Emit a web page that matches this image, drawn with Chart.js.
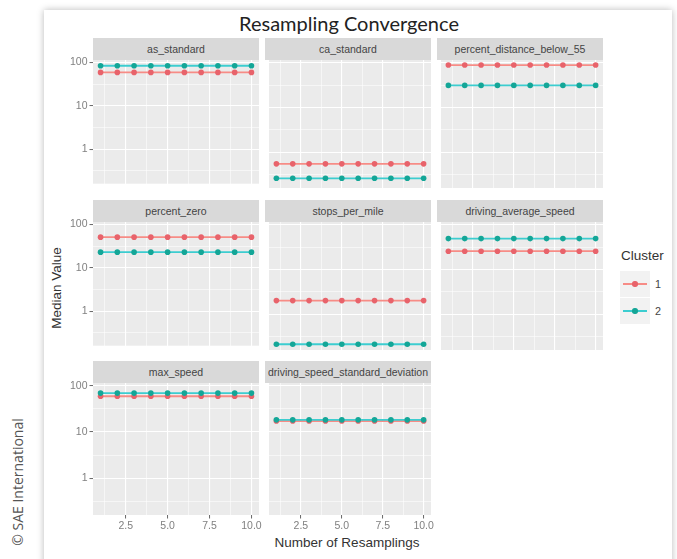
<!DOCTYPE html>
<html><head><meta charset="utf-8">
<script src="https://cdn.jsdelivr.net/npm/chart.js@4.4.1/dist/chart.umd.min.js"></script>
<style>
html,body{margin:0;padding:0;background:#fff;width:677px;height:559px;overflow:hidden;position:relative;font-family:"Liberation Sans",Arial,sans-serif;}
#card{position:absolute;left:44px;top:10px;width:628px;height:570px;background:#fff;box-shadow:0 0 7px rgba(0,0,0,0.28);}
.strip{position:absolute;background:#d9d9d9;color:#444;font-size:10.5px;height:22px;line-height:22px;overflow:hidden;white-space:nowrap;display:flex;justify-content:center;}
canvas{position:absolute;}
#title{position:absolute;left:149px;width:400px;top:10px;line-height:26px;text-align:center;font-family:Lato,"Open Sans",sans-serif;font-size:20px;color:#222;}
#ytitle{position:absolute;left:-43px;width:200px;top:280px;line-height:16px;text-align:center;font-size:13.5px;color:#333;transform:rotate(-90deg);}
#xtitle{position:absolute;left:197px;width:300px;top:535px;line-height:16px;text-align:center;font-size:13.5px;color:#333;}
#copy{position:absolute;left:-82px;width:200px;top:474px;line-height:16px;text-align:center;font-family:"Open Sans",sans-serif;font-size:14px;color:#555;transform:rotate(-90deg);}
.lg{position:absolute;}
</style></head><body>
<div id="card"></div>
<div id="title">Resampling Convergence</div>
<div id="ytitle">Median Value</div>
<div id="xtitle">Number of Resamplings</div>
<div id="copy">© SAE International</div>
<div id="legend"></div>
<script>
// ---- data ----
const resamplings = [1,2,3,4,5,6,7,8,9,10];
const facetNames = ['as_standard','ca_standard','percent_distance_below_55','percent_zero','stops_per_mile','driving_average_speed','max_speed','driving_speed_standard_deviation'];
const clusterNames = ['1','2'];

const asStandard1 = [59,59,59,59,59,59,59,59,59,59];
const asStandard2 = [84,84,84,84,84,84,84,84,84,84];
const caStandard1 = [0.553,0.553,0.553,0.553,0.553,0.553,0.553,0.553,0.553,0.553];
const caStandard2 = [0.263,0.263,0.263,0.263,0.263,0.263,0.263,0.263,0.263,0.263];
const pctDistBelow55_1 = [88,88,88,88,88,88,88,88,88,88];
const pctDistBelow55_2 = [31,31,31,31,31,31,31,31,31,31];
const pctZero1 = [51,51,51,51,51,51,51,51,51,51];
const pctZero2 = [23,23,23,23,23,23,23,23,23,23];
const stopsPerMile1 = [2.02,2.02,2.02,2.02,2.02,2.02,2.02,2.02,2.02,2.02];
const stopsPerMile2 = [0.215,0.215,0.215,0.215,0.215,0.215,0.215,0.215,0.215,0.215];
const drivingAvgSpeed1 = [25.5,25.5,25.5,25.5,25.5,25.5,25.5,25.5,25.5,25.5];
const drivingAvgSpeed2 = [48.6,48.6,48.6,48.6,48.6,48.6,48.6,48.6,48.6,48.6];
const maxSpeed1 = [59,59,59,59,59,59,59,59,59,59];
const maxSpeed2 = [69,69,69,69,69,69,69,69,69,69];
const drivingSpeedSd1 = [17.2,17.2,17.2,17.2,17.2,17.2,17.2,17.2,17.2,17.2];
const drivingSpeedSd2 = [18.2,18.2,18.2,18.2,18.2,18.2,18.2,18.2,18.2,18.2];

const yMajorTicks = [1,10,100];
const yMajorLabels = ['1','10','100'];
const yMinorTicks = [0.316,3.16,31.6];
const xMajorTicks = [2.5,5,7.5,10];
const xMajorLabels = ['2.5','5.0','7.5','10.0'];
const xMinorTicks = [1.25,3.75,6.25,8.75];

const cluster1Series = [asStandard1,caStandard1,pctDistBelow55_1,pctZero1,stopsPerMile1,drivingAvgSpeed1,maxSpeed1,drivingSpeedSd1];
const cluster2Series = [asStandard2,caStandard2,pctDistBelow55_2,pctZero2,stopsPerMile2,drivingAvgSpeed2,maxSpeed2,drivingSpeedSd2];

// ---- style / layout ----
const RED_LINE='#f78c86', RED_PT='#e8636b', TEAL_LINE='#3ccdd0', TEAL_PT='#14a697';
const COLS=[93,265,437], ROWS=[60,222,383], PW=166, PH=132, STRIP=22;
const PADT=10, PADR=14;
const X_MIN=0.55, X_MAX=10.45, Y_MIN=0.16, Y_MAX=114;

const panelBg = {id:'panelBg', beforeDraw(chart){const a=chart.chartArea,c=chart.ctx;c.save();c.fillStyle='#ebebeb';c.fillRect(a.left,a.top,a.right-a.left,a.bottom-a.top);c.restore();}};

function makePanel(idx){
  const r=Math.floor(idx/3), c=idx%3;
  const px=COLS[c], py=ROWS[r];
  const showY = c===0, showX = r===2;
  const L = showY?36:0, B = showX?24:0;
  // strip
  const s=document.createElement('div');
  s.className='strip';
  s.style.left=px+'px'; s.style.top=(py-STRIP)+'px'; s.style.width=PW+'px';
  const sp=document.createElement('span'); sp.textContent=facetNames[idx]; s.appendChild(sp);
  document.body.appendChild(s);
  // canvas
  const cv=document.createElement('canvas');
  const w=L+PW+PADR, h=PADT+PH+B;
  cv.width=w; cv.height=h;
  cv.style.left=(px-L)+'px'; cv.style.top=(py-PADT)+'px';
  cv.style.width=w+'px'; cv.style.height=h+'px';
  document.body.appendChild(cv);
  const mk=(arr)=>resamplings.map((x,i)=>({x:x,y:arr[i]}));
  const tickFont={family:'"Liberation Sans", Arial, sans-serif', size:10.5};
  new Chart(cv,{
    type:'line',
    data:{datasets:[
      {label:clusterNames[0],data:mk(cluster1Series[idx]),borderColor:RED_LINE,borderWidth:1.8,pointBackgroundColor:RED_PT,pointBorderWidth:0,pointRadius:2.8,order:2,tension:0},
      {label:clusterNames[1],data:mk(cluster2Series[idx]),borderColor:TEAL_LINE,borderWidth:1.8,pointBackgroundColor:TEAL_PT,pointBorderWidth:0,pointRadius:2.8,order:1,tension:0}
    ]},
    options:{
      responsive:false, animation:false, devicePixelRatio:1,
      layout:{padding:{top:PADT,right:PADR,left:0,bottom:0}},
      plugins:{legend:{display:false},tooltip:{enabled:false}},
      events:[],
      scales:{
        x:{type:'linear',min:X_MIN,max:X_MAX,bounds:'data',border:{display:false},
          afterBuildTicks:(sc)=>{sc.ticks=xMinorTicks.concat(xMajorTicks).sort((a,b)=>a-b).map(v=>({value:v}));},
          afterFit:(sc)=>{sc.height=B;},
          ticks:{display:showX,autoSkip:false,maxRotation:0,padding:1.5,color:'#808080',font:tickFont,
            callback:(v)=>{const k=xMajorTicks.indexOf(v);return k>=0?xMajorLabels[k]:'';}},
          grid:{drawTicks:showX,tickLength:3.5,tickWidth:1,
            color:'#ffffff',
            lineWidth:(ctx)=>xMajorTicks.includes(ctx.tick&&ctx.tick.value)?1.1:0.55,
            tickColor:(ctx)=>xMajorTicks.includes(ctx.tick&&ctx.tick.value)?'#666':'rgba(0,0,0,0)'}
        },
        y:{type:'logarithmic',min:Y_MIN,max:Y_MAX,bounds:'data',border:{display:false},
          afterBuildTicks:(sc)=>{sc.ticks=yMinorTicks.concat(yMajorTicks).sort((a,b)=>a-b).map(v=>({value:v}));},
          afterFit:(sc)=>{sc.width=L;},
          ticks:{display:showY,autoSkip:false,padding:2,color:'#808080',font:tickFont,
            callback:(v)=>{const k=yMajorTicks.indexOf(v);return k>=0?yMajorLabels[k]:'';}},
          grid:{drawTicks:showY,tickLength:3.5,tickWidth:1,
            color:'#ffffff',
            lineWidth:(ctx)=>yMajorTicks.includes(ctx.tick&&ctx.tick.value)?1.1:0.55,
            tickColor:(ctx)=>yMajorTicks.includes(ctx.tick&&ctx.tick.value)?'#666':'rgba(0,0,0,0)'}
        }
      }
    },
    plugins:[panelBg]
  });
}
for(let i=0;i<facetNames.length;i++) makePanel(i);

// ---- legend ----
(function(){
  const lg=document.getElementById('legend');
  const add=(css,txt)=>{const d=document.createElement('div');d.className='lg';d.style.cssText=css;if(txt!==undefined)d.textContent=txt;lg.appendChild(d);return d;};
  add('left:621px;top:247px;font-size:13.5px;line-height:18px;color:#333;','Cluster');
  const lines=[RED_LINE,TEAL_LINE], pts=[RED_PT,TEAL_PT];
  for(let k=0;k<2;k++){
    const top=271+k*27;
    add('left:620px;top:'+top+'px;width:30px;height:26px;background:#f2f2f2;');
    add('left:623px;top:'+(top+12.2)+'px;width:24px;height:1.8px;background:'+lines[k]+';');
    add('left:632.3px;top:'+(top+10.4)+'px;width:5.4px;height:5.4px;border-radius:50%;background:'+pts[k]+';');
    add('left:655px;top:'+(top+6)+'px;font-size:10.8px;line-height:14px;color:#444;',clusterNames[k]);
  }
})();
</script>
</body></html>
